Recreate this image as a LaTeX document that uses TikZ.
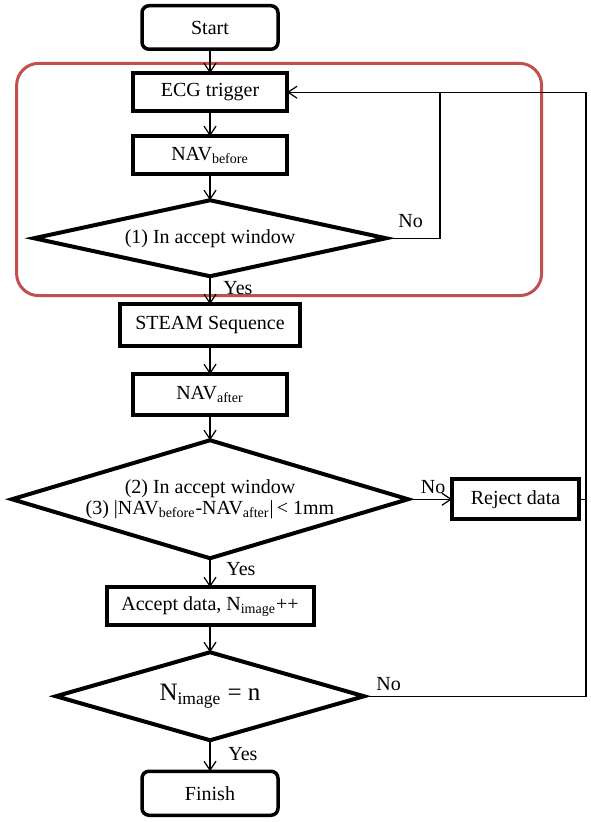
\documentclass[tikz,border=0pt]{standalone}
\usepackage{fontspec}
\setmainfont{Liberation Serif}
\usepackage{xcolor}
\usetikzlibrary{arrows.meta,positioning,shapes.geometric}
\definecolor{framered}{RGB}{192,80,77}

\begin{document}
\begin{tikzpicture}[x=1pt,y=1pt,>={Straight Barb[length=4.5pt,width=6pt]},node distance=13.5pt,
  font=\fontsize{10}{10.5}\selectfont,
  procbox/.style={draw,line width=2pt,outer sep=0pt,minimum height=19pt,inner sep=0pt,align=center},
  termbox/.style={draw,line width=1.75pt,outer sep=0pt,rounded corners=3.5pt,minimum width=68pt,minimum height=21.75pt,inner sep=0pt},
  decision/.style={draw,diamond,line width=2pt,outer sep=0pt,inner sep=0pt,align=center},
  flow/.style={->,line width=0.6pt},
  link/.style={line width=0.6pt},
  lbl/.style={inner sep=1pt}]
\useasboundingbox (0,0) rectangle (295,-411);
\draw[framered,line width=1.5pt,rounded corners=11pt] (8.3,-31.7) rectangle (270.8,-147.8);
\node[termbox] (start) at (105,-13.75) {Start};
\node[procbox,minimum width=77pt,below=12pt of start] (ecg) {ECG trigger};
\node[procbox,minimum width=77pt,below=12.5pt of ecg] (navb) {NAV\textsubscript{before}};
\node[decision,minimum width=176pt,minimum height=38pt,aspect=4.6,below=13pt of navb] (dec1) {(1) In accept window};
\node[procbox,minimum width=90pt,minimum height=21pt,below=14pt of dec1] (steam) {STEAM Sequence};
\node[procbox,minimum width=77pt,minimum height=20.5pt,below=14pt of steam] (nava) {NAV\textsubscript{after}};
\node[decision,minimum width=198pt,minimum height=59pt,aspect=3.35,below=12.5pt of nava] (dec2) {(2) In accept window\\(3) |NAV\textsubscript{before}-NAV\textsubscript{after}|\,< 1mm};
\node[procbox,minimum width=63.5pt,minimum height=20pt,right=22pt of dec2] (reject) {Reject data};
\node[procbox,minimum width=103.5pt,below=14.5pt of dec2] (accept) {Accept data, N\textsubscript{image}++};
\node[decision,minimum width=154pt,minimum height=44pt,aspect=3.5,below=13.5pt of accept,font=\fontsize{12.5}{14}\selectfont] (dec3) {N\textsubscript{image} = n};
\node[termbox,minimum height=22pt,below=15.5pt of dec3] (finish) {Finish};
\coordinate (loopx) at (220,0);
\coordinate (rightx) at (293,0);
\draw[flow] (start) -- (ecg);
\draw[flow] (ecg) -- (navb);
\draw[flow] (navb) -- (dec1);
\draw[flow] (dec1) -- (steam);
\draw[flow] (steam) -- (nava);
\draw[flow] (nava) -- (dec2);
\draw[flow] (dec2) -- (accept);
\draw[flow] (accept) -- (dec3);
\draw[flow] (dec3) -- (finish);
\draw[flow] (dec2.east) -- (reject.west);
\draw[flow] (dec1.east) -- (dec1.east -| loopx) |- (ecg.east);
\draw[link] (dec3.east) -| (rightx |- ecg.east) -- (loopx |- ecg.east);
\draw[link] (reject.east) -- (reject.east -| rightx);
\node[lbl,above right=4pt and 5pt of dec1.east] (no1) {No};
\node[lbl,above right=1.5pt and 5.25pt of dec2.east] (no2) {No};
\node[lbl,above right=1.6pt and 5pt of dec3.east] (no3) {No};
\node[lbl,below right=1.5pt and 5.5pt of dec1.south] (yes1) {Yes};
\node[lbl,below right=1pt and 7pt of dec2.south] (yes2) {Yes};
\node[lbl,below right=2.5pt and 8pt of dec3.south] (yes3) {Yes};
\end{tikzpicture}
\end{document}
